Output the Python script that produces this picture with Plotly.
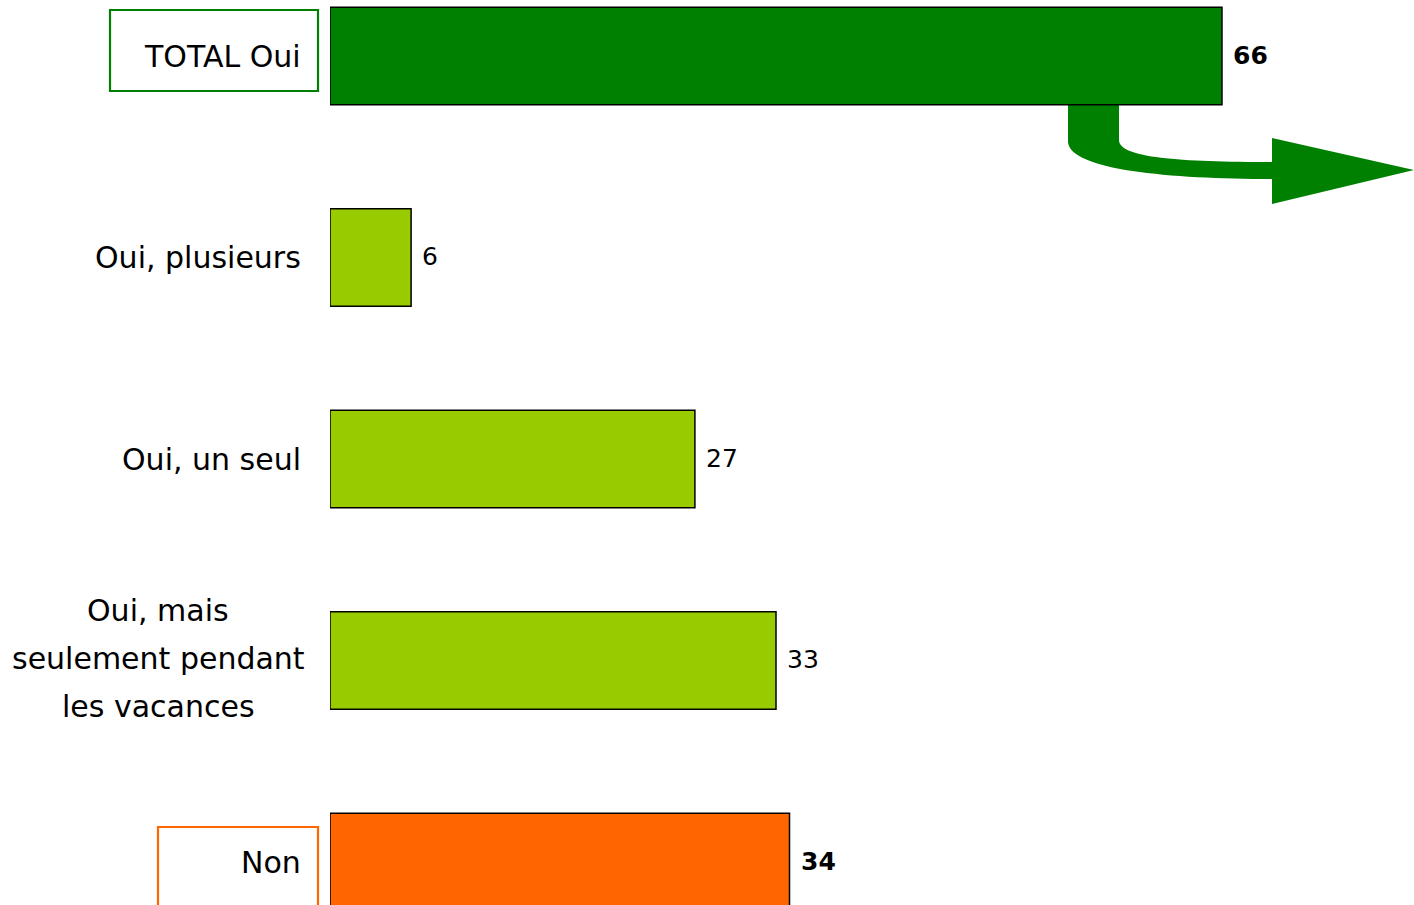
import plotly.graph_objects as go

# ---- data ----
categories = ["TOTAL Oui", "Oui, plusieurs", "Oui, un seul",
              "Oui, mais<br>seulement pendant<br>les vacances", "Non"]
values = [66, 6, 27, 33, 34]
bar_colors = ["#008000", "#99CC00", "#99CC00", "#99CC00", "#FF6600"]
bold_flags = [True, False, False, False, True]
boxed = {"TOTAL Oui": "#008000", "Non": "#FF6600"}

W, H = 1414, 905
FONT = "DejaVu Sans"

def px(x):
    return x / W

def py(y):
    return 1 - y / H

ypos = list(range(len(categories)))

fig = go.Figure()
fig.add_trace(go.Bar(
    x=values, y=ypos, orientation="h",
    marker=dict(color=bar_colors, line=dict(color="#000000", width=1.5)),
    width=0.483, hoverinfo="skip",
))

annotations = []
# value labels
for v, yv, b in zip(values, ypos, bold_flags):
    annotations.append(dict(
        x=v, y=yv, xref="x", yref="y", xanchor="left", yanchor="middle",
        xshift=9, yshift=1, showarrow=False,
        text=f"<b>{v}</b>" if b else str(v),
        font=dict(family=FONT, size=25, color="#000000"),
    ))

# category labels (placed left of the plot area)
for cat, yv in zip(categories, ypos):
    lines = cat.split("<br>")
    if len(lines) == 1:
        annotations.append(dict(
            x=px(303), y=yv, xref="paper", yref="y", xanchor="right",
            yanchor="middle", showarrow=False, text=cat, yshift=0,
            font=dict(family=FONT, size=30, color="#000000"),
        ))
    else:
        n = len(lines)
        for i, ln in enumerate(lines):
            annotations.append(dict(
                x=px(158), y=yv, xref="paper", yref="y", xanchor="center",
                yanchor="middle", showarrow=False, text=ln,
                yshift=-(i - (n - 1) / 2) * 48 + 2,
                font=dict(family=FONT, size=30, color="#000000"),
            ))

shapes = []
# boxes around TOTAL Oui / Non
shapes.append(dict(type="rect", xref="paper", yref="paper",
                   x0=px(110), x1=px(318), y0=py(91), y1=py(10),
                   line=dict(color=boxed["TOTAL Oui"], width=2.2), fillcolor="rgba(0,0,0,0)"))
shapes.append(dict(type="rect", xref="paper", yref="paper",
                   x0=px(158), x1=px(318), y0=py(930), y1=py(827),
                   line=dict(color=boxed["Non"], width=2.2), fillcolor="rgba(0,0,0,0)"))

# curved arrow below the TOTAL bar
pts = [("M", [(1068, 104)]), ("L", [(1068, 142)]),
       ("C", [(1070, 170), (1170, 179), (1272, 179)]),
       ("L", [(1272, 204)]), ("L", [(1414, 170)]), ("L", [(1272, 138)]),
       ("L", [(1272, 162)]),
       ("C", [(1180, 162), (1119, 158), (1119, 140)]),
       ("L", [(1119, 104)])]
path = ""
for cmd, coords in pts:
    path += cmd + " " + " ".join(f"{px(x):.5f},{py(y):.5f}" for x, y in coords) + " "
path += "Z"
shapes.append(dict(type="path", xref="paper", yref="paper", path=path,
                   fillcolor="#008000", line=dict(width=0), layer="below"))

y_top = -56 / 201.5
y_bot = (905 - 56) / 201.5

fig.update_layout(
    width=W, height=H,
    margin=dict(l=0, r=0, t=0, b=0),
    paper_bgcolor="#FFFFFF", plot_bgcolor="#FFFFFF",
    showlegend=False,
    xaxis=dict(domain=[330 / W, 1], range=[0, (W - 330) / 13.515],
               visible=False, fixedrange=True),
    yaxis=dict(domain=[0, 1], range=[y_bot, y_top], visible=False, fixedrange=True),
    annotations=annotations,
    shapes=shapes,
)

fig.write_html("out.html",
               config={"displayModeBar": False, "staticPlot": True},
               post_script="document.body.style.margin='0';document.body.style.overflow='hidden';")
